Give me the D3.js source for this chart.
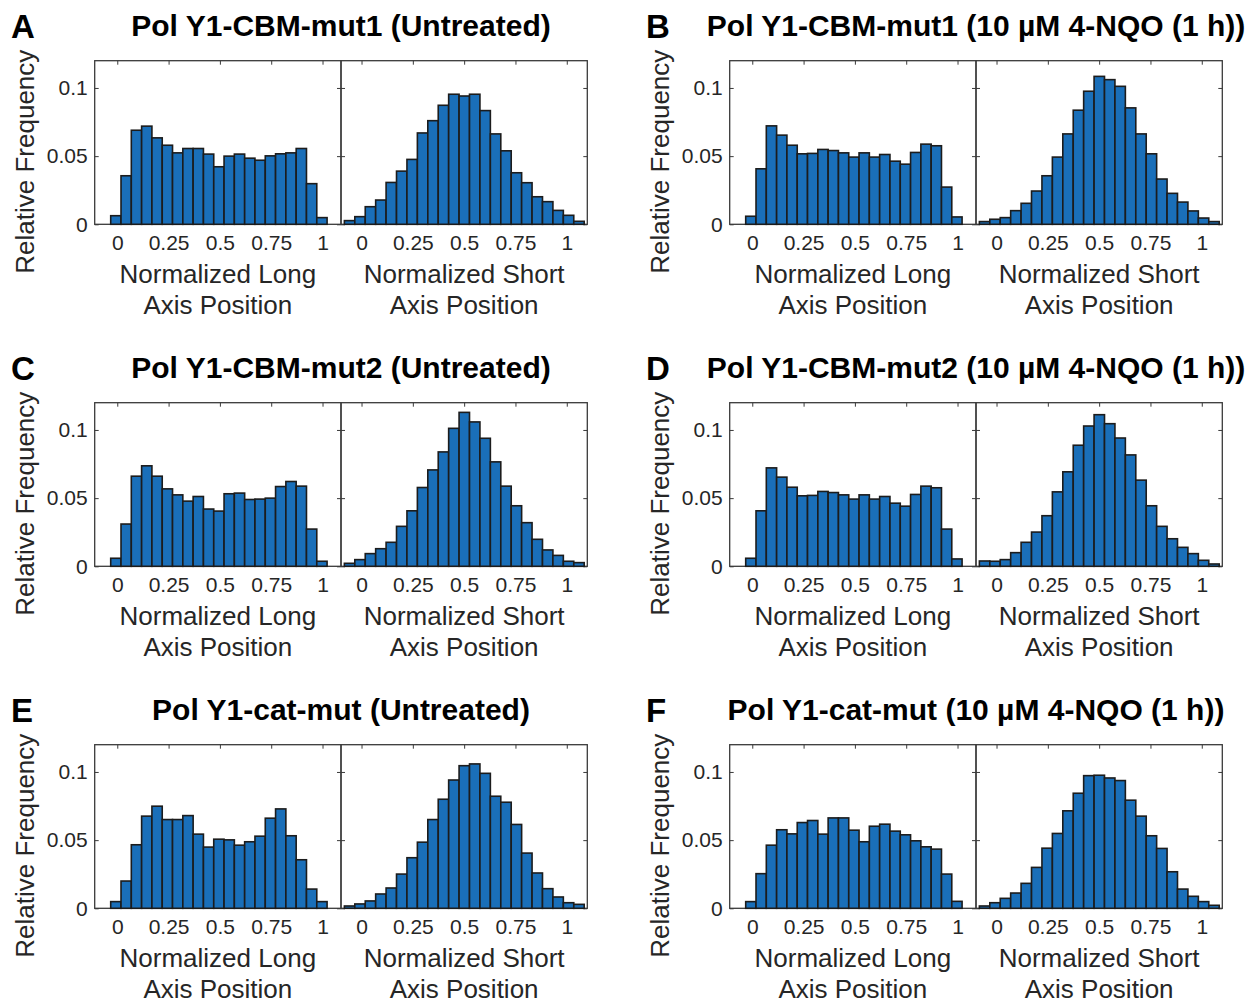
<!DOCTYPE html>
<html>
<head>
<meta charset="utf-8">
<script src="https://cdn.jsdelivr.net/npm/d3@7"></script>
<style>
  html, body { margin: 0; padding: 0; background: #fff; }
  svg { display: block; }
  text { font-family: "Liberation Sans", Arial, sans-serif; }
</style>
</head>
<body>
<div id="chart"></div>
<script>
// ---- data -------------------------------------------------------------
const panelLetters = ["A", "B", "C", "D", "E", "F"];
const panelTitles = [
  "Pol Y1-CBM-mut1 (Untreated)",
  "Pol Y1-CBM-mut1 (10 µM 4-NQO (1 h))",
  "Pol Y1-CBM-mut2 (Untreated)",
  "Pol Y1-CBM-mut2 (10 µM 4-NQO (1 h))",
  "Pol Y1-cat-mut (Untreated)",
  "Pol Y1-cat-mut (10 µM 4-NQO (1 h))"
];
const yLabel = "Relative Frequency";
const longLabel = ["Normalized Long", "Axis Position"];
const shortLabel = ["Normalized Short", "Axis Position"];
const xTicks = [0, 0.25, 0.5, 0.75, 1];
const yTicks = [0, 0.05, 0.1];

// histogram bin layout (left edge of first bin, bin width)
const longBinStart = -0.032, longBinWidth = 0.0502;
const shortBinStart = -0.0835, shortBinWidth = 0.0508;

// relative frequency per bin, long axis
const longA = [0.0063, 0.0356, 0.069, 0.072, 0.0634, 0.058, 0.0524, 0.0556, 0.0556, 0.0515, 0.0422,
               0.050, 0.0515, 0.0485, 0.047, 0.0502, 0.0517, 0.0524, 0.0556, 0.0298, 0.0049];
const longB = [0.0059, 0.0407, 0.0722, 0.0654, 0.058, 0.0517, 0.052, 0.0549, 0.0541, 0.0524, 0.0493,
               0.0524, 0.0493, 0.0512, 0.0463, 0.0441, 0.0527, 0.0588, 0.0576, 0.0273, 0.0054];
const longC = [0.0059, 0.031, 0.0661, 0.0737, 0.0661, 0.0568, 0.0524, 0.0478, 0.0512, 0.042, 0.0405,
               0.0532, 0.0537, 0.049, 0.0493, 0.050, 0.0585, 0.0622, 0.0588, 0.0273, 0.0037];
const longD = [0.0059, 0.0407, 0.0722, 0.0654, 0.058, 0.0517, 0.052, 0.0549, 0.0541, 0.0524, 0.0493,
               0.0524, 0.0493, 0.0512, 0.0463, 0.0441, 0.0527, 0.0588, 0.0576, 0.0273, 0.0054];
const longE = [0.0049, 0.020, 0.0466, 0.0676, 0.0749, 0.0651, 0.0651, 0.068, 0.0544, 0.0449, 0.0507,
               0.0502, 0.0463, 0.0488, 0.0529, 0.0661, 0.0729, 0.0532, 0.0356, 0.0141, 0.0049];
const longF = [0.0049, 0.0254, 0.0463, 0.0576, 0.0546, 0.0629, 0.0644, 0.0544, 0.0663, 0.0663, 0.0573,
               0.0488, 0.0602, 0.0617, 0.0566, 0.0539, 0.0495, 0.0451, 0.0434, 0.0251, 0.0051];

// relative frequency per bin, short axis
const shortA = [0.0027, 0.0056, 0.0129, 0.0178, 0.0307, 0.039, 0.0476, 0.067, 0.076, 0.0873, 0.0954, 0.0941,
                0.0954, 0.0834, 0.0663, 0.0539, 0.0378, 0.0305, 0.0202, 0.0166, 0.0102, 0.0066, 0.0022];
const shortB = [0.002, 0.0037, 0.0049, 0.010, 0.0154, 0.0244, 0.0356, 0.0493, 0.0663, 0.0837, 0.0976, 0.1085,
                0.1061, 0.1012, 0.0854, 0.0663, 0.0517, 0.0332, 0.0227, 0.0163, 0.0098, 0.0046, 0.002];
const shortC = [0.0022, 0.0049, 0.0093, 0.0129, 0.0176, 0.0293, 0.0407, 0.0578, 0.0707, 0.0839, 0.1012, 0.1129,
                0.1059, 0.0939, 0.0766, 0.0588, 0.0444, 0.032, 0.0198, 0.012, 0.008, 0.0037, 0.0027];
const shortD = [0.0039, 0.0037, 0.0049, 0.010, 0.0176, 0.0251, 0.0371, 0.0546, 0.0693, 0.0888, 0.1029, 0.1112,
                0.1046, 0.0941, 0.0817, 0.0632, 0.0444, 0.0293, 0.0202, 0.0139, 0.0093, 0.0044, 0.0017];
const shortE = [0.0017, 0.0032, 0.0054, 0.0105, 0.0149, 0.0251, 0.0371, 0.0485, 0.0651, 0.080, 0.0941, 0.1046,
                0.1059, 0.099, 0.0822, 0.0778, 0.0615, 0.0405, 0.0259, 0.0144, 0.0083, 0.0041, 0.0029];
const shortF = [0.0017, 0.0041, 0.0073, 0.0112, 0.0183, 0.030, 0.0441, 0.0549, 0.0715, 0.0844, 0.0973, 0.0976,
                0.0956, 0.0937, 0.0793, 0.0676, 0.0532, 0.0439, 0.0268, 0.0141, 0.0088, 0.0049, 0.0022];

const longSeries = [longA, longB, longC, longD, longE, longF];
const shortSeries = [shortA, shortB, shortC, shortD, shortE, shortF];

// ---- layout -----------------------------------------------------------
const W = 1255, H = 1002;
const colLeft = [94.7, 729.7];
const rowTop = [60.7, 402.7, 744.7];
const axW = 246.3, axH = 163.6;
const barFill = "#1a6fb9";
const axisColor = "#3a3a3a";
const textColor = "#262626";

const svg = d3.select("#chart").append("svg")
  .attr("width", W).attr("height", H);

const y = d3.scaleLinear().domain([0, 0.12]).range([axH, 0]);
const xLong = d3.scaleLinear().domain([-0.11, 1.09]).range([0, axW]);
const xShort = d3.scaleLinear().domain([-0.1, 1.1]).range([0, axW]);

function drawHist(g, xs, values, start, width, showYLabels) {
  // box
  g.append("rect")
    .attr("x", 0).attr("y", 0).attr("width", axW).attr("height", axH)
    .attr("fill", "none").attr("stroke", axisColor).attr("stroke-width", 1.3);

  const fmt = d => String(d);

  const bottom = g.append("g").attr("transform", `translate(0,${axH})`)
    .call(d3.axisBottom(xs).tickValues(xTicks).tickFormat(fmt)
      .tickSize(-4).tickSizeOuter(0).tickPadding(11));
  const top = g.append("g")
    .call(d3.axisTop(xs).tickValues(xTicks).tickFormat("")
      .tickSize(-4).tickSizeOuter(0));
  const left = g.append("g")
    .call(d3.axisLeft(y).tickValues(yTicks).tickFormat(showYLabels ? fmt : "")
      .tickSize(-4).tickSizeOuter(0).tickPadding(7));
  const right = g.append("g").attr("transform", `translate(${axW},0)`)
    .call(d3.axisRight(y).tickValues(yTicks).tickFormat("")
      .tickSize(-4).tickSizeOuter(0));

  [bottom, top, left, right].forEach(a => {
    a.select(".domain").remove();
    a.selectAll(".tick line").attr("stroke", axisColor).attr("stroke-width", 1);
    a.selectAll(".tick text")
      .attr("fill", textColor)
      .style("font-size", "21px")
      .style("font-family", '"Liberation Sans", Arial, sans-serif');
  });

  g.append("g").selectAll("rect.bar")
    .data(values)
    .join("rect")
    .attr("class", "bar")
    .attr("x", (d, i) => xs(start + i * width))
    .attr("width", (d, i) => xs(start + (i + 1) * width) - xs(start + i * width))
    .attr("y", d => y(d))
    .attr("height", d => y(0) - y(d))
    .attr("fill", barFill)
    .attr("stroke", "#1c1c1c")
    .attr("stroke-width", 1.6);
}

panelTitles.forEach((title, p) => {
  const col = p % 2, row = Math.floor(p / 2);
  const x0 = colLeft[col], y0 = rowTop[row];
  const panel = svg.append("g").attr("transform", `translate(${x0},${y0})`);

  // panel letter
  panel.append("text")
    .attr("x", 11 - 94.7).attr("y", -23)
    .attr("font-size", 33).attr("font-weight", "bold").attr("fill", "#000")
    .text(panelLetters[p]);

  // title centred over both axes
  panel.append("text")
    .attr("x", axW).attr("y", -25)
    .attr("text-anchor", "middle")
    .attr("font-size", 30).attr("font-weight", "bold").attr("fill", "#000")
    .text(title);

  // y label
  panel.append("text")
    .attr("transform", `translate(${25 - 94.7},${101}) rotate(-90)`)
    .attr("text-anchor", "middle").attr("dominant-baseline", "central")
    .attr("font-size", 26).attr("fill", textColor)
    .text(yLabel);

  const gLong = panel.append("g");
  drawHist(gLong, xLong, longSeries[p], longBinStart, longBinWidth, true);
  const gShort = panel.append("g").attr("transform", `translate(${axW},0)`);
  drawHist(gShort, xShort, shortSeries[p], shortBinStart, shortBinWidth, false);

  // x labels (two lines)
  [[longLabel, 0], [shortLabel, axW]].forEach(([lines, dx]) => {
    lines.forEach((line, k) => {
      panel.append("text")
        .attr("x", dx + axW / 2).attr("y", axH + 59 + k * 31)
        .attr("text-anchor", "middle")
        .attr("font-size", 26).attr("fill", textColor)
        .text(line);
    });
  });
});
</script>
</body>
</html>
